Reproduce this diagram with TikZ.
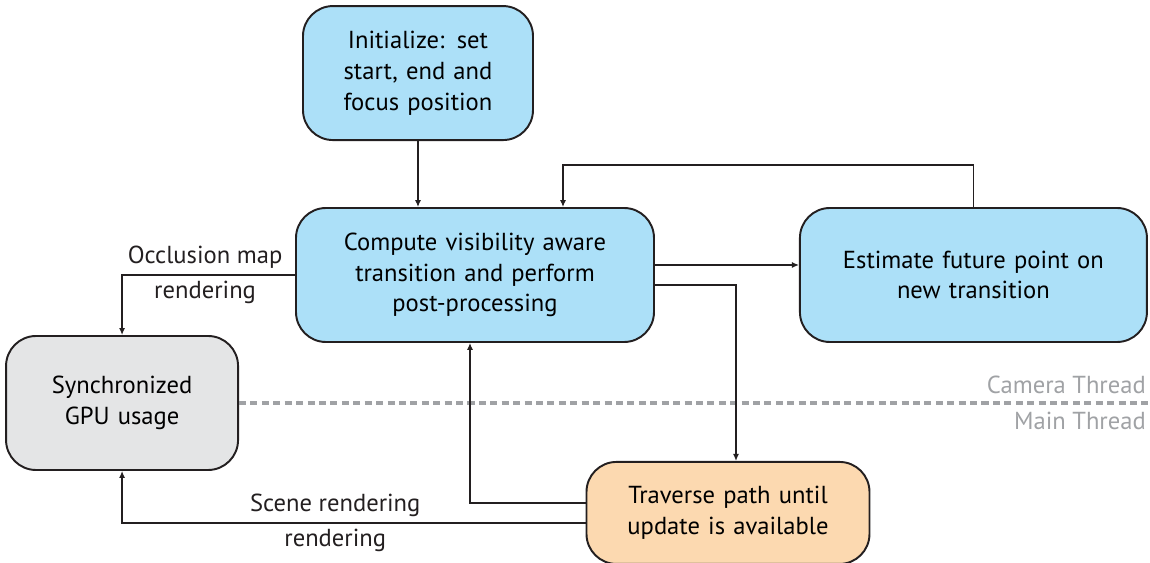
\documentclass[tikz,border=0pt]{standalone}
\usepackage{fontspec}
\setmainfont{PT Sans}
\usetikzlibrary{shapes,arrows.meta,positioning}
\definecolor{boxblue}{RGB}{172,224,248}
\definecolor{boxgray}{RGB}{228,229,230}
\definecolor{boxorange}{RGB}{252,217,176}
\definecolor{edgedark}{RGB}{35,31,32}
\definecolor{threadgray}{RGB}{160,162,165}
\tikzstyle{block} = [rectangle, draw=edgedark, line width=1.1pt, fill=boxblue, text width=4.6cm, align=center, rounded corners=0.6cm, minimum height=2.68cm, inner sep=0pt]
\tikzstyle{line} = [draw, edgedark, line width=0.75pt, -{Latex[length=4pt,width=3.5pt]}]
\tikzstyle{thread} = [draw, threadgray, line width=2pt, dash pattern=on 4pt off 2.5pt]

\begin{document}
\begin{tikzpicture}[node distance = 2cm, auto, font=\fontsize{14}{17.5}\selectfont]
        \useasboundingbox (-9.5,5.5) rectangle (13.5,-5.76);
        \node[block, text width=7.16cm]                            (comp) at (0,0) {Compute visibility aware\\transition and perform\\post-processing};
        \node[block, above=1.32cm of comp, xshift=-1.14cm]         (init) {Initialize: set\\start, end and\\focus position};
        \node[block, text width=6.94cm, right=2.88cm of comp]      (est)  {Estimate future point on\\new transition};
        \node[block, text width=4.64cm, fill=boxgray, left=1.12cm of comp, yshift=-2.56cm] (gpu) {Synchronized\\GPU usage};
        \node[block, text width=5.66cm, minimum height=2.04cm, fill=boxorange, below=2.36cm of comp, xshift=5.06cm] (trav) {Traverse path until\\update is available};

        % thread separator
        \coordinate (sep) at (gpu.east -| est.east);
        \path[thread] (gpu.east) -- (sep);
        \node[threadgray, anchor=south east, inner xsep=1pt, inner ysep=5pt] (cam)  at (sep) {Camera Thread};
        \node[threadgray, anchor=north east, inner xsep=1pt, inner ysep=5pt] (main) at (sep) {Main Thread};

        \path[line] (init) -- (init |- comp.north);
        \path[line] (est.north) -- ++(0,0.84) -| ([xshift=1.76cm]comp.north);
        \path[line] ([yshift=0.2cm]comp.east) -- ([yshift=0.2cm]comp.east -| est.west);
        \path[line] ([yshift=-0.2cm]comp.east) -| ([xshift=0.16cm]trav.north);
        \path[line] ([yshift=0.2cm]trav.west) -| ([xshift=-0.1cm]comp.south);
        \path[line] ([yshift=-0.2cm]trav.west) -| node[pos=.27, above]{Scene rendering} node[pos=.27, below]{rendering} (gpu.south);
        \path[line] (comp.west) -| node[pos=.26, above]{Occlusion map} node[pos=.26, below]{rendering} (gpu.north);
      \end{tikzpicture}
\end{document}
